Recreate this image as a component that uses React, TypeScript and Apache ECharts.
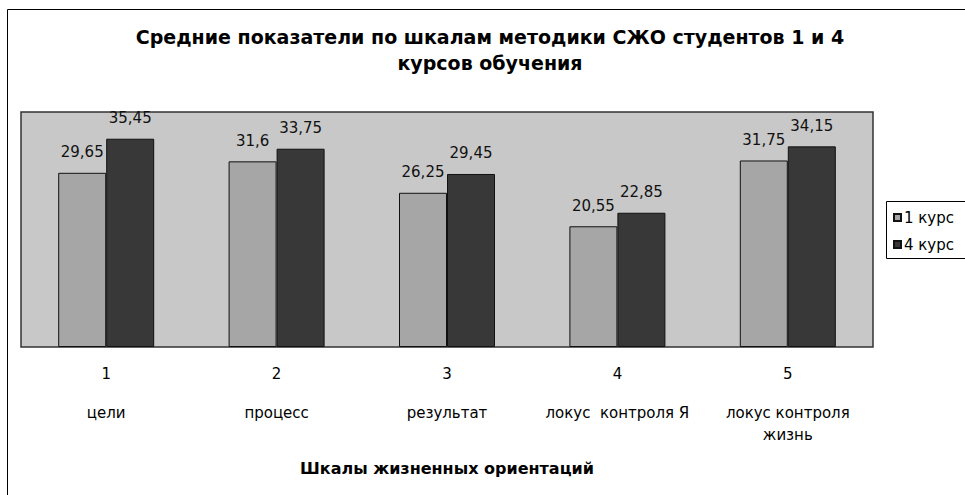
import React, { useEffect, useRef } from "react";
import * as echarts from "echarts";

const titleText = "Средние показатели по шкалам методики СЖО студентов 1 и 4\nкурсов обучения";
const categoryNumbers = ["1", "2", "3", "4", "5"];
const categoryNames = ["цели", "процесс", "результат", "локус  контроля Я", "локус контроля\nжизнь"];
const seriesNames = ["1 курс", "4 курс"];
const course1 = [29.65, 31.6, 26.25, 20.55, 31.75];
const course4 = [35.45, 33.75, 29.45, 22.85, 34.15];
const axisTitle = "Шкалы жизненных ориентаций";

const FONT = "'DejaVu Sans', 'Liberation Sans', Arial, sans-serif";

export default function App() {
  const ref = useRef<HTMLDivElement>(null);
  useEffect(() => {
    document.body.style.margin = "0";
    const chart = echarts.init(ref.current!, null, { renderer: "svg" });
    const categories = categoryNumbers.map((n, i) => n + "|" + categoryNames[i]);
    const fmt = (v: number) => String(v).replace(".", ",");
    chart.setOption({
      animation: false,
      backgroundColor: "#ffffff",
      textStyle: { fontFamily: FONT },
      graphic: [
        {
          type: "rect",
          shape: { x: 7.5, y: 9.5, width: 1100, height: 600 },
          style: { fill: "none", stroke: "#000", lineWidth: 1 },
          z: 0,
          silent: true,
        },
        {
          type: "rect",
          shape: { x: 886.5, y: 201.5, width: 120, height: 57 },
          style: { fill: "#fff", stroke: "#000", lineWidth: 1 },
          z: 0,
          silent: true,
        },
        {
          type: "text",
          x: 490,
          y: 50,
          style: {
            text: titleText,
            fontFamily: FONT,
            fontSize: 19,
            fontWeight: "bold",
            lineHeight: 26,
            align: "center",
            verticalAlign: "middle",
            fill: "#000",
          },
          z: 10,
        },
      ],
      legend: {
        orient: "vertical",
        left: 887,
        top: 202,
        data: seriesNames,
        icon: "rect",
        itemWidth: 7,
        itemHeight: 7,
        itemGap: 12,
        padding: [8, 4, 7, 6],
        textStyle: { fontFamily: FONT, fontSize: 15, color: "#000", padding: [0, 0, 0, -2] },
        z: 5,
      },
      grid: {
        show: true,
        left: 21,
        top: 112,
        right: 92,
        bottom: 148,
        backgroundColor: "#C8C8C8",
        borderColor: "#333",
        borderWidth: 1.5,
        containLabel: false,
      },
      xAxis: {
        type: "category",
        data: categories,
        axisLine: { show: false },
        axisTick: { show: false },
        axisLabel: {
          margin: 16,
          interval: 0,
          formatter: (v: string) => {
            const [n, name] = v.split("|");
            const lines = name.split("\n").map((l) => `{t|${l}}`).join("\n");
            return `{n|${n}}\n{s| }\n${lines}`;
          },
          rich: {
            n: { fontFamily: FONT, fontSize: 15, lineHeight: 22, color: "#000" },
            s: { fontFamily: FONT, fontSize: 10, lineHeight: 17 },
            t: { fontFamily: FONT, fontSize: 15, lineHeight: 22, color: "#000" },
          },
        },
        name: axisTitle,
        nameLocation: "middle",
        nameGap: 113,
        nameTextStyle: { fontFamily: FONT, fontSize: 16, fontWeight: "bold", color: "#000" },
      },
      yAxis: {
        type: "value",
        min: 0,
        max: 40,
        show: false,
        splitLine: { show: false },
      },
      series: [
        {
          name: seriesNames[0],
          type: "bar",
          data: course1,
          barWidth: 48,
          barGap: "0%",
          itemStyle: { color: "#A6A6A6", borderColor: "#111", borderWidth: 1 },
          label: {
            show: true,
            position: "top",
            distance: 13,
            formatter: (p: any) => fmt(p.value),
            fontFamily: FONT,
            fontSize: 15,
            color: "#111",
          },
        },
        {
          name: seriesNames[1],
          type: "bar",
          data: course4,
          barWidth: 48,
          barGap: "0%",
          itemStyle: { color: "#383838", borderColor: "#111", borderWidth: 1 },
          label: {
            show: true,
            position: "top",
            distance: 13,
            formatter: (p: any) => fmt(p.value),
            fontFamily: FONT,
            fontSize: 15,
            color: "#111",
          },
        },
      ],
    });
    return () => chart.dispose();
  }, []);
  return <div ref={ref} style={{ position: "fixed", left: 0, top: 0, width: 965, height: 495 }} />;
}
